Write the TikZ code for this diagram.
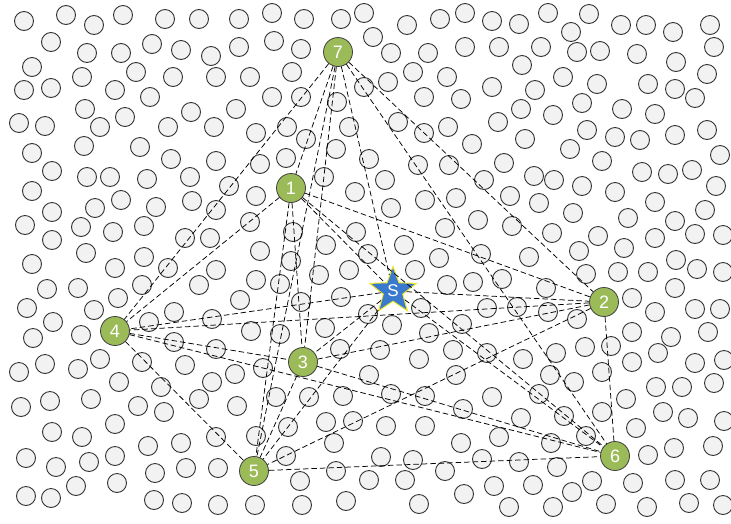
\documentclass[tikz,border=0pt]{standalone}
\usepackage{fontspec}
\setmainfont{Liberation Sans}
\usetikzlibrary{shapes.geometric}
\definecolor{gfill}{RGB}{155,187,89}
\definecolor{sblue}{RGB}{58,122,206}
\definecolor{syellow}{RGB}{240,230,40}
\definecolor{dotfill}{RGB}{242,242,242}
\tikzset{
  dotc/.style={fill=dotfill,draw=black!80,line width=0.9pt},
  gnode/.style={circle,fill=gfill,draw=black!75,line width=0.8pt,minimum size=29pt,inner sep=0pt,text=white,font=\fontsize{18}{18}\selectfont},
  snode/.style={star,star points=5,star point ratio=2.4,fill=sblue,draw=syellow,line width=1pt,minimum size=49pt,inner sep=0pt,text=white,font=\fontsize{17}{17}\selectfont},
  edge/.style={draw=black,line width=0.75pt,dash pattern=on 5.5pt off 3pt}
}
\begin{document}
\begin{tikzpicture}[x=1pt,y=-1pt]
\useasboundingbox (0,0) rectangle (731,523);
\foreach \x/\y in {
24/21,66/15,94/25,123/15,165/19,51/42,87/53,121/53,152/44,181/50,32/67,82/77,136/72,173/77,24/90,51/88,115/90,150/97,85/109,125/117,19/123,45/126,100/127,168/127,32/153,84/146,140/147,171/159,52/171,87/177,110/177,147/179,191/112,
199/19,239/19,272/13,304/19,341/19,364/13,211/56,239/47,274/41,301/49,373/37,216/77,250/77,292/72,272/97,301/97,337/102,364/87,236/109,214/127,256/133,287/127,306/139,349/127,336/149,369/159,216/161,260/164,286/158,190/177,324/177,
407/25,440/19,465/13,492/21,519/24,548/13,391/53,428/53,465/47,499/47,541/47,522/65,413/72,447/77,388/82,424/97,461/99,492/87,535/90,521/109,553/115,398/122,424/133,448/127,472/144,498/122,525/139,418/165,449/165,504/163,385/180,484/180,534/176,
589/14,571/32,621/25,646/25,673/32,710/25,714/47,577/52,600/51,637/54,676/62,707/74,563/77,597/84,648/84,675/89,695/98,582/103,622/109,655/114,587/130,615/137,640/140,675/135,707/130,570/149,602/161,720/155,642/172,668/174,692/170,554/180,
32/191,52/212,25/225,95/208,121/200,156/207,81/227,113/232,144/226,52/240,185/238,86/253,32/264,115/268,144/257,168/268,47/289,78/288,118/298,142/285,27/308,94/310,174/312,53/322,149/322,33/338,81/335,174/342,
229/186,355/192,192/201,216/210,256/196,250/222,210/238,293/232,326/245,356/232,260/251,291/261,368/254,216/270,199/285,256/280,280/284,319/275,349/270,240/300,301/302,341/297,212/319,368/314,251/331,280/334,325/328,216/349,340/349,
425/200,456/198,510/196,539/203,391/208,445/228,478/220,512/226,552/233,404/245,439/258,481/254,529/257,415/270,447/285,473/282,502/279,546/288,421/308,392/325,429/333,462/324,487/308,517/307,548/312,
582/186,615/192,716/186,573/213,628/218,655/202,675/221,705/210,598/236,655/238,695/234,723/235,579/251,624/248,676/260,586/274,618/272,648/272,697/269,723/272,675/288,632/298,577/319,655/312,695/309,720/309,632/332,671/337,708/332,585/347,611/346,658/353,
19/372,45/364,78/369,100/359,142/362,119/382,161/387,185/365,21/407,50/401,91/399,138/406,164/412,115/424,52/432,82/437,148/446,26/458,56/467,89/462,115/456,155/473,186/468,76/486,117/483,26/496,51/498,154/500,182/503,181/443,
212/382,235/374,263/368,369/375,199/399,237/406,276/397,309/397,343/396,288/427,326/422,353/421,216/437,256/436,334/443,286/456,218/468,300/481,336/471,369/480,218/505,255/505,302/505,346/501,
419/359,523/359,456/375,550/375,391/394,425/396,492/397,539/394,463/409,521/418,386/426,425/426,499/437,461/443,551/443,381/457,413/460,445/471,482/459,519/462,405/480,464/494,494/486,419/504,509/507,533/485,553/507,380/350,453/350,487/353,
556/353,632/362,695/363,724/360,602/372,574/382,656/387,682/387,714/383,626/399,564/416,602/412,663/412,688/418,724/421,636/428,586/436,648/455,674/448,713/446,557/467,592/481,633/483,675/480,710/480,572/492,606/504,647/507,689/503,723/505}
  \draw[dotc] (\x,\y) circle[radius=9.5pt];
\node[gnode] (n7) at (338,52) {7};
\node[gnode] (n1) at (291,188) {1};
\node[snode] (S) at (393,291) {S};
\node[gnode] (n2) at (604,302) {2};
\node[gnode] (n4) at (115,331) {4};
\node[gnode] (n3) at (303,362) {3};
\node[gnode] (n5) at (254,471) {5};
\node[gnode] (n6) at (615,456) {6};
\foreach \a/\b in {n7/n1,n7/S,n7/n2,n7/n4,n7/n3,n7/n5,n7/n6,
  n1/S,n1/n2,n1/n4,n1/n3,n1/n5,n1/n6,
  S/n2,S/n4,S/n3,S/n5,S/n6,
  n2/n4,n2/n3,n2/n5,n2/n6,
  n4/n3,n4/n5,n4/n6,
  n3/n5,n3/n6,
  n5/n6}
  \draw[edge] (\a) -- (\b);
\end{tikzpicture}
\end{document}
